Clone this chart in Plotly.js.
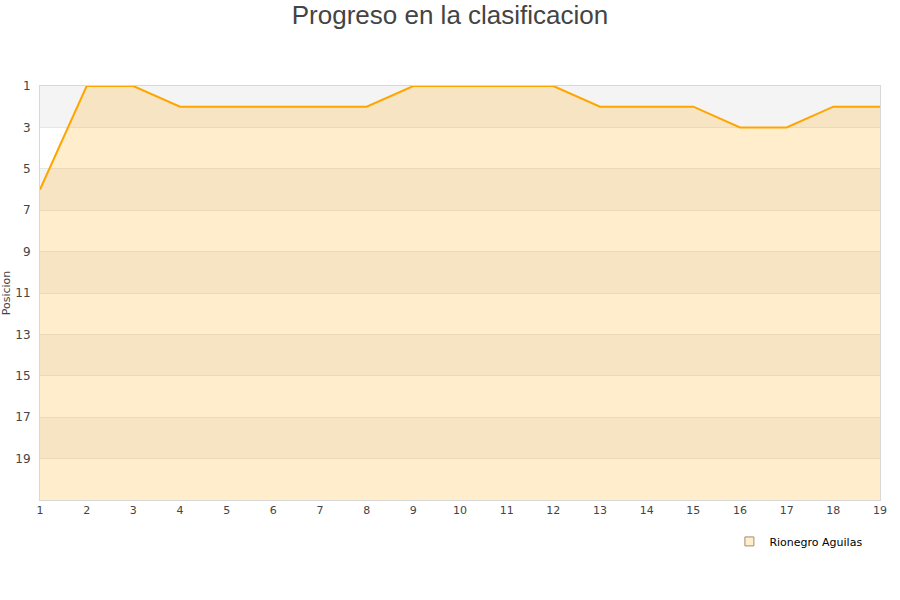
<!DOCTYPE html>
<html><head><meta charset="utf-8">
<script src="https://cdn.plot.ly/plotly-3.0.1.min.js"></script>
<style>body{margin:0;background:#fff}#c{width:900px;height:600px}</style>
</head><body><div id="c"></div>
<script>
var jornadas = [1,2,3,4,5,6,7,8,9,10,11,12,13,14,15,16,17,18,19];
var posicion = [6,1,1,2,2,2,2,2,1,1,1,1,2,2,2,3,3,2,2];
var teamName = "Rionegro Aguilas";
var yTicks = [1,3,5,7,9,11,13,15,17,19];
var yMin = 1, yMax = 21;

var base = {x: jornadas, y: jornadas.map(function(){return yMax;}), mode:'lines',
  line:{width:0}, showlegend:false, hoverinfo:'skip'};
var main = {x: jornadas, y: posicion, mode:'lines', fill:'tonexty',
  fillcolor:'rgba(255,165,0,0.2)', line:{color:'#ffa500', width:2}, showlegend:false, name:teamName};
var leg = {x:[null], y:[null], mode:'markers', name:teamName,
  marker:{symbol:'square', size:9, color:'#ffedcc', line:{color:'#a09070', width:1}}};

var shapes = [];
for (var i = 0; i < yTicks.length; i += 2) {
  shapes.push({type:'rect', xref:'paper', x0:0, x1:1, yref:'y', y0:yTicks[i], y1:yTicks[i]+2,
    fillcolor:'#f4f4f4', line:{width:0}, layer:'below'});
}

var layout = {
  width:900, height:600,
  margin:{l:40, r:20, t:86, b:100},
  paper_bgcolor:'#fff', plot_bgcolor:'#fff',
  font:{family:'DejaVu Sans, sans-serif', color:'#444', size:11},
  title:{text:'Progreso en la clasificacion', font:{family:'Liberation Sans, Arial, sans-serif', size:26, color:'#444'}, x:0.5, y:0.975, yanchor:'middle'},
  xaxis:{range:[1,19], tickvals:jornadas, ticks:'', showgrid:false, zeroline:false,
    showline:true, mirror:true, linecolor:'#d8d8d8', linewidth:1, tickfont:{size:11,color:'#444'}},
  yaxis:{range:[yMax,yMin], tickvals:yTicks, ticks:'', showgrid:true, gridcolor:'#e6e6e6', zeroline:false,
    showline:true, mirror:true, linecolor:'#d8d8d8', linewidth:1, tickfont:{size:12,color:'#444'},
    ticklabelstandoff:6,
    title:{text:'Posicion', font:{size:11,color:'#444'}, standoff:6}},
  shapes: shapes,
  showlegend:true,
  legend:{x:0.985, xanchor:'right', y:-0.065, yanchor:'top', orientation:'h', bgcolor:'rgba(0,0,0,0)',
    font:{size:11, color:'#000', family:'DejaVu Sans, sans-serif'}}
};
Plotly.newPlot('c', [base, main, leg], layout, {displayModeBar:false, staticPlot:true});
</script></body></html>
